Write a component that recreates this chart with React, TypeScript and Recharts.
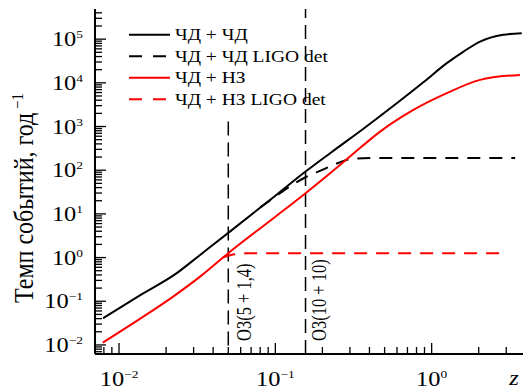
import { LineChart, Line, XAxis, YAxis, ReferenceLine, Legend } from "recharts";

const FONT = "'Liberation Serif', 'Times New Roman', 'DejaVu Serif', serif";
// the source figure is stretched horizontally, so glyphs are widened a bit
const SX = 1.22;
const TXT = { fontFamily: FONT };

const X_DOMAIN: [number, number] = [0.00702, 3.84];
const Y_DOMAIN: [number, number] = [0.0062, 4.9e5];
const X_DECADES = [-3, -2, -1, 0];
const Y_DECADES = [-3, -2, -1, 0, 1, 2, 3, 4, 5];
const MULT = [1, 2, 3, 4, 5, 6, 7, 8, 9];

// ЧД + ЧД
const bhbhZ = [0.0079, 0.0136, 0.0234, 0.033, 0.05, 0.1, 0.156, 0.224, 0.366, 0.598, 0.885, 1.25, 1.6, 2.04, 2.87, 3.77];
const bhbhRate = [0.041, 0.136, 0.44, 1.15, 3.67, 26, 93, 245, 890, 3400, 10300, 28200, 52000, 88000, 126000, 137000];

// ЧД + ЧД LIGO det
const bhbhDetZ = [0.08, 0.1, 0.118, 0.156, 0.2, 0.235, 0.3, 0.366, 0.5, 1, 2, 3.42];
const bhbhDetRate = [14, 25, 38, 69, 102, 132, 179, 188, 190, 190, 190, 190];

// ЧД + НЗ
const bhnsZ = [0.00787, 0.0143, 0.0222, 0.033, 0.05, 0.1, 0.156, 0.224, 0.3, 0.468, 0.764, 1.25, 2.04, 3.67];
const bhnsRate = [0.0113, 0.0445, 0.128, 0.366, 1.26, 8.6, 29.8, 85.5, 205, 766, 2400, 5800, 11700, 15200];

// ЧД + НЗ LIGO det
const bhnsDetZ = [0.046, 0.052, 0.058, 0.065, 0.1, 0.3, 1, 3.05];
const bhnsDetRate = [1.0, 1.15, 1.22, 1.25, 1.26, 1.26, 1.26, 1.26];

// O3 horizons
const O3_A = 0.05;
const O3_A_TOP = 1300;
const O3_B = 0.156;

const pts = (z: number[], r: number[]) => z.map((v, i) => ({ z: v, rate: r[i] }));

const SERIES = [
  { name: "ЧД + ЧД", color: "#000", dash: undefined, data: pts(bhbhZ, bhbhRate) },
  { name: "ЧД + ЧД LIGO det", color: "#000", dash: "13 9", data: pts(bhbhDetZ, bhbhDetRate) },
  { name: "ЧД + НЗ", color: "#ff0000", dash: undefined, data: pts(bhnsZ, bhnsRate) },
  { name: "ЧД + НЗ LIGO det", color: "#ff0000", dash: "13 9", data: pts(bhnsDetZ, bhnsDetRate) },
];

function logTicks(decades: number[], [lo, hi]: [number, number]) {
  const out: number[] = [];
  for (const d of decades)
    for (const m of MULT) {
      const v = m * Math.pow(10, d);
      if (v >= lo && v <= hi) out.push(v);
    }
  return out;
}
const xTicks = logTicks(X_DECADES, X_DOMAIN);
const yTicks = logTicks(Y_DECADES, Y_DOMAIN);

const expOf = (v: number) => {
  const e = Math.round(Math.log10(v));
  return { e, major: Math.abs(Math.log10(v) - e) < 1e-9 };
};
const sup = (e: number) => (e < 0 ? `−${-e}` : `${e}`);

function XTick({ x, y, payload }: any) {
  const { e, major } = expOf(payload.value);
  return (
    <g>
      <line x1={x} x2={x} y1={y} y2={y - (major ? 11 : 7)} stroke="#000" strokeWidth={1.3} />
      {major && (
        <text transform={`translate(${x},${y + 32}) scale(${SX},1)`} textAnchor="middle" style={TXT} fontSize={20} fill="#000">
          10<tspan dy={-8} fontSize={11}>{sup(e)}</tspan>
        </text>
      )}
    </g>
  );
}

function YTick({ x, y, payload }: any) {
  const { e, major } = expOf(payload.value);
  return (
    <g>
      <line x1={x} x2={x + (major ? 11 : 7)} y1={y} y2={y} stroke="#000" strokeWidth={1.3} />
      {major && (
        <text transform={`translate(${x - 12},${y + 7}) scale(${SX},1)`} textAnchor="end" style={TXT} fontSize={20} fill="#000">
          10<tspan dy={-8} fontSize={11}>{sup(e)}</tspan>
        </text>
      )}
    </g>
  );
}

function TopTick({ x, y }: any) {
  return <line x1={x} x2={x} y1={y} y2={y + 11} stroke="#000" strokeWidth={1.3} />;
}

function YLabel() {
  return (
    <text transform="translate(33,198) scale(1.1,1) rotate(-90)" textAnchor="middle" style={TXT} fontSize={24} fill="#000">
      Темп событий, год<tspan dy={-9} fontSize={15}> −1</tspan>
    </text>
  );
}

function ZLabel({ viewBox }: any) {
  const vb = viewBox || { x: 95, y: 354, width: 428 };
  return (
    <text transform={`translate(${vb.x + vb.width - 9},${vb.y + 31}) scale(${SX},1)`} textAnchor="middle" style={TXT} fontSize={20} fontStyle="italic" fill="#000">
      z
    </text>
  );
}

function O3Label({ viewBox, text, dx }: any) {
  if (!viewBox) return null;
  const x = viewBox.x + dx;
  const y = viewBox.y + viewBox.height - 13;
  return (
    <text transform={`translate(${x},${y}) scale(${SX},1) rotate(-90)`} textAnchor="start" style={TXT} fontSize={16.5} fill="#000">
      {text}
    </text>
  );
}

function LegendBox() {
  return (
    <svg width={230} height={90} style={{ display: "block", overflow: "visible" }}>
      {SERIES.map((s, i) => {
        const cy = 10.75 + i * 21.5;
        return (
          <g key={s.name}>
            <line x1={0} x2={s.dash ? 37 : 41} y1={cy} y2={cy} stroke={s.color} strokeWidth={2} strokeDasharray={s.dash ? "13 11" : undefined} />
            <text transform={`translate(46,${cy + 5.5}) scale(${SX},1)`} style={TXT} fontSize={16} fill="#000">
              {s.name}
            </text>
          </g>
        );
      })}
    </svg>
  );
}

export default function App() {
  return (
    <div style={{ position: "absolute", left: 0, top: 0, background: "#fff", fontFamily: FONT }}>
      <LineChart width={525} height={389} margin={{ top: 9, right: 2, bottom: 0, left: 0 }}>
        <XAxis
          dataKey="z"
          type="number"
          scale="log"
          domain={X_DOMAIN}
          allowDataOverflow
          ticks={xTicks}
          interval={0}
          tickSize={0}
          tickMargin={0}
          tickLine={false}
          tick={(p: any) => <XTick {...p} />}
          height={35}
          axisLine={{ stroke: "#000", strokeWidth: 2 }}
          label={<ZLabel />}
        />
        <XAxis
          xAxisId="top"
          orientation="top"
          type="number"
          scale="log"
          domain={X_DOMAIN}
          allowDataOverflow
          ticks={[O3_A, O3_B]}
          interval={0}
          tickSize={0}
          tickMargin={0}
          tickLine={false}
          tick={(p: any) => <TopTick {...p} />}
          height={0}
          axisLine={{ stroke: "#444", strokeWidth: 1.5 }}
        />
        <YAxis
          type="number"
          scale="log"
          domain={Y_DOMAIN}
          allowDataOverflow
          ticks={yTicks}
          interval={0}
          tickSize={0}
          tickMargin={0}
          tickLine={false}
          tick={(p: any) => <YTick {...p} />}
          width={95}
          axisLine={{ stroke: "#000", strokeWidth: 2 }}
          label={<YLabel />}
        />
        <YAxis
          yAxisId="right"
          orientation="right"
          type="number"
          scale="log"
          domain={Y_DOMAIN}
          allowDataOverflow
          width={0}
          tick={false}
          tickLine={false}
          axisLine={{ stroke: "#444", strokeWidth: 1.5 }}
        />
        <ReferenceLine
          segment={[{ x: O3_A, y: O3_A_TOP }, { x: O3_A, y: Y_DOMAIN[0] }]}
          ifOverflow="visible"
          stroke="#000"
          strokeWidth={1.5}
          strokeDasharray="14 7"
          label={<O3Label text="O3(5 + 1,4)" dx={23} />}
        />
        <ReferenceLine
          x={O3_B}
          stroke="#000"
          strokeWidth={1.5}
          strokeDasharray="14 7"
          label={<O3Label text="O3(10 + 10)" dx={20} />}
        />
        {SERIES.map((s) => (
          <Line
            key={s.name}
            name={s.name}
            data={s.data}
            dataKey="rate"
            type="monotone"
            stroke={s.color}
            strokeWidth={2}
            strokeDasharray={s.dash}
            dot={false}
            activeDot={false}
            isAnimationActive={false}
          />
        ))}
        <Legend
          layout="vertical"
          align="center"
          verticalAlign="middle"
          content={() => <LegendBox />}
          wrapperStyle={{ position: "absolute", left: 129, top: 24, width: 230, height: 90 }}
        />
      </LineChart>
    </div>
  );
}
